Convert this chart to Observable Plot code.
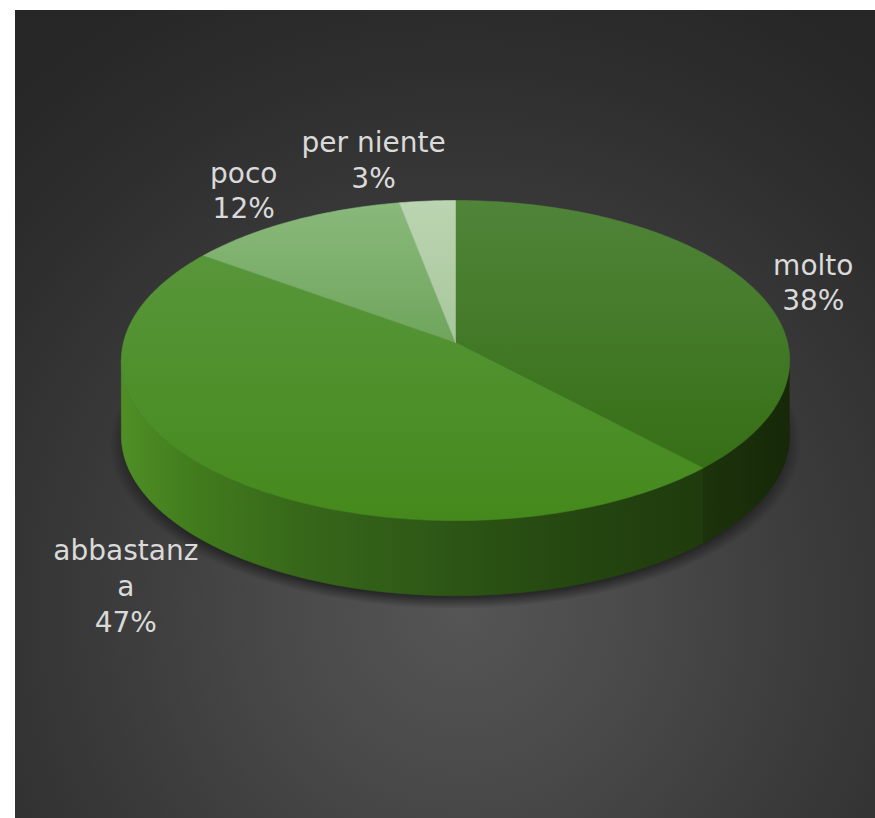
<!DOCTYPE html>
<html><head><meta charset="utf-8">
<script src="https://cdn.jsdelivr.net/npm/d3@7"></script>
<script src="https://cdn.jsdelivr.net/npm/@observablehq/plot@0.6"></script>
<style>
html,body{margin:0;padding:0;background:#fff;}
#wrap{position:relative;width:875px;height:818px;overflow:hidden;}
#bg{position:absolute;left:15px;top:10px;width:860px;height:808px;
  background:radial-gradient(ellipse 78% 85% at 52% 74%, #555555 0%, #4a4a4a 25%, #3a3a3a 55%, #2e2e2e 80%, #272727 100%);}
#chart{position:absolute;left:0;top:0;}
</style></head><body>
<div id="wrap"><div id="bg"></div><div id="chart"></div></div>
<script>
// ---- data ----
const categories = ["molto", "abbastanza", "poco", "per niente"];
const values = [38, 47, 12, 3];
const labelNames = ["molto", "abbastanz\na", "poco", "per niente"];

// ---- geometry (perspective pie) ----
const K = 0.1127;      // perspective strength
const DEPTH = 0.475;   // thickness in y units
const total = d3.sum(values);
let acc = 0;
const slices = values.map((v, i) => {
  const a0 = acc / total * 2 * Math.PI; acc += v;
  const a1 = acc / total * 2 * Math.PI;
  return {i, name: categories[i], value: v, a0, a1};
});
function proj(t, r = 1) {
  const c = Math.cos(t), s = Math.sin(t), d = 1 + K * r * c;
  return [r * s / d, -r * c / d];
}
function arcPts(a0, a1, r = 1) {
  const n = Math.max(2, Math.ceil((a1 - a0) / (Math.PI / 180)));
  return d3.range(n + 1).map(j => proj(a0 + (a1 - a0) * j / n, r));
}
const S1 = Math.acos(-K), S2 = 2 * Math.PI - S1;

const topPolys = slices.map(s => [[0, 0], ...arcPts(s.a0, s.a1), [0, 0]].map(([x, y]) => ({x, y})));
const sidePolys = slices.map(s => {
  const lo = Math.max(s.a0, S1), hi = Math.min(s.a1, S2);
  if (lo >= hi) return null;
  const pts = arcPts(lo, hi);
  return [...pts, ...pts.slice().reverse().map(([x, y]) => [x, y + DEPTH])].map(([x, y]) => ({x, y}));
});
const shadowPoly = arcPts(0, 2 * Math.PI).map(([x, y]) => ({x: x * 1.035, y: y * 1.03 + DEPTH + 0.05}));

const topFill = ["url(#t0)", "url(#t1)", "url(#t2)", "url(#t3)"];
const sideFill = ["url(#s0)", "url(#s1)", "url(#s2)", "url(#s3)"];
const labelNudge = [[-23, 10.5], [-9, 69], [-6, 1], [-46.5, -5.5]];

const marks = [];
marks.push(Plot.line(shadowPoly, {x: "x", y: "y", fill: "url(#shadow)", stroke: "none"}));
sidePolys.forEach((p, i) => { if (p) marks.push(Plot.line(p, {x: "x", y: "y", fill: sideFill[i], stroke: sideFill[i], strokeWidth: 0.6})); });
topPolys.forEach((p, i) => marks.push(Plot.line(p, {x: "x", y: "y", fill: topFill[i], stroke: topFill[i], strokeWidth: 0.6})));
slices.forEach((s, i) => {
  const [lx, ly] = proj((s.a0 + s.a1) / 2, 1.3);
  marks.push(Plot.text([{x: lx, y: ly, t: `${labelNames[i]}\n${s.value}%`}], {
    x: "x", y: "y", text: "t", dx: labelNudge[i][0], dy: labelNudge[i][1],
    fill: "#dadada", fontSize: 28, fontFamily: "DejaVu Sans", lineHeight: 1.27, textAnchor: "middle"
  }));
});

const chart = Plot.plot({
  width: 875, height: 818, margin: 0,
  x: {domain: [-1, 1], range: [123, 787], axis: null},
  y: {domain: [-1, 1], range: [184, 500], axis: null},
  style: {background: "transparent", overflow: "visible"},
  marks
});

const svg = d3.select(chart);
const defs = svg.insert("defs", ":first-child");
function grad(id, x2, y2, stops) {
  const g = defs.append("linearGradient").attr("id", id).attr("x1", 0).attr("y1", 0).attr("x2", x2).attr("y2", y2);
  stops.forEach(([o, c]) => g.append("stop").attr("offset", o).attr("stop-color", c));
}
grad("t0", 0, 1, [[0, "#508439"], [1, "#366f16"]]);
grad("t1", 0, 1, [[0, "#58963a"], [1, "#45891c"]]);
grad("t2", 0, 1, [[0, "#89b97b"], [1, "#6fa55c"]]);
grad("t3", 0, 1, [[0, "#bbd4b1"], [1, "#a8c79c"]]);
grad("s0", 1, 0, [[0, "#1c330b"], [1, "#162808"]]);
grad("s1", 1, 0, [[0, "#4f8f26"], [0.12, "#427c1d"], [0.3, "#37681a"], [0.55, "#2d5716"], [0.8, "#244510"], [1, "#1f3b0d"]]);
grad("s2", 1, 0, [[0, "#5d9a48"], [1, "#4a8236"]]);
grad("s3", 1, 0, [[0, "#9bb98f"], [1, "#8aa87e"]]);
const rg = defs.append("radialGradient").attr("id", "shadow");
[[0, 0.55], [0.93, 0.5], [1, 0]].forEach(([o, a]) => rg.append("stop").attr("offset", o).attr("stop-color", "#000").attr("stop-opacity", a));

document.getElementById("chart").appendChild(chart);
</script>
</body></html>
